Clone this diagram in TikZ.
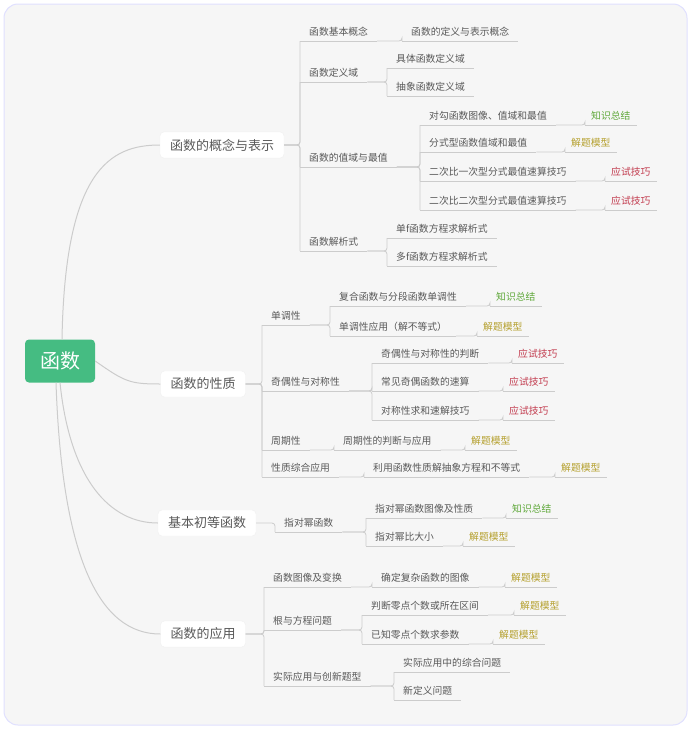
\documentclass[tikz,border=0pt]{standalone}
\usepackage{fontspec}
\setmainfont{Noto Sans CJK SC}
\definecolor{kncol}{HTML}{5FA83A}
\definecolor{jtcol}{HTML}{B5A02E}
\definecolor{yscol}{HTML}{C23B4E}
\definecolor{rootcol}{HTML}{45BC82}
\begin{document}
\begin{tikzpicture}[x=1pt,y=-1pt,
  txt/.style={text=black!65,font=\fontsize{9.8}{10}\selectfont},
  leaf/.style={txt,anchor=south west,inner xsep=9,inner ysep=3,minimum height=18},
  l2/.style={leaf},
  tg/.style={leaf,inner xsep=6},
  kn/.style={tg,text=kncol},
  jt/.style={tg,text=jtcol},
  ys/.style={tg,text=yscol},
  l1/.style={txt,font=\fontsize{13}{14}\selectfont,fill=white,rounded corners=4,inner xsep=10,inner ysep=7,draw=black!6},
  ln/.style={draw=black!20,line width=0.8pt,rounded corners=3},
  cv/.style={draw=black!20,line width=1pt}]
\useasboundingbox (0,0) rectangle (691,729);
\fill[white] (0,0) rectangle (691,729);
\fill[rounded corners=14,fill=black!3.5,draw=blue!12,line width=1pt] (4,4) rectangle (687,725);
% root
\node[fill=rootcol,rounded corners=4,text=white,font=\fontsize{20}{22}\selectfont,minimum width=70,minimum height=43] (root) at (60,361) {函数};
% level1
\node[l1] (a) at (222,145) {函数的概念与表示};
\node[l1] (b) at (203,384) {函数的性质};
\node[l1] (c) at (207,523) {基本初等函数};
\node[l1] (d) at (203,634) {函数的应用};
\draw[cv] (root.north) ++(2,0) .. controls (65,170) and (110,145) .. (a.west);
\draw[cv] (root.east) .. controls (125,382) and (130,384) .. (b.west);
\draw[cv] (root.south) .. controls (70,480) and (110,523) .. (c.west);
\draw[cv] (root.south) ++(-4,0) .. controls (62,560) and (100,634) .. (d.west);
% ---- concept
\node[l2] (a1) at (300,41) {函数基本概念};
\node[leaf] (a11) at (402,41) {函数的定义与表示概念};
\node[l2] (a2) at (300,82) {函数定义域};
\node[leaf] (a21) at (387,68) {具体函数定义域};
\node[leaf] (a22) at (387,96) {抽象函数定义域};
\node[l2] (a3) at (300,167) {函数的值域与最值};
\node[leaf] (a31) at (420,125) {对勾函数图像、值域和最值};
\node[kn] (a31t) at (585,125) {知识总结};
\node[leaf] (a32) at (420,152) {分式型函数值域和最值};
\node[jt] (a32t) at (565,152) {解题模型};
\node[leaf] (a33) at (420,181) {二次比一次型分式最值速算技巧};
\node[ys] (a33t) at (605,181) {应试技巧};
\node[leaf] (a34) at (420,210) {二次比二次型分式最值速算技巧};
\node[ys] (a34t) at (605,210) {应试技巧};
\node[l2] (a4) at (300,251) {函数解析式};
\node[leaf] (a41) at (387,238) {单f函数方程求解析式};
\node[leaf] (a42) at (387,266) {多f函数方程求解析式};
% ---- properties
\node[l2] (b1) at (262,325) {单调性};
\node[leaf] (b11) at (330,306) {复合函数与分段函数单调性};
\node[kn] (b11t) at (490,306) {知识总结};
\node[leaf] (b12) at (330,336) {单调性应用（解不等式）};
\node[jt] (b12t) at (477,336) {解题模型};
\node[l2] (b2) at (262,391) {奇偶性与对称性};
\node[leaf] (b21) at (372,363) {奇偶性与对称性的判断};
\node[ys] (b21t) at (512,363) {应试技巧};
\node[leaf] (b22) at (372,391) {常见奇偶函数的速算};
\node[ys] (b22t) at (503,391) {应试技巧};
\node[leaf] (b23) at (372,420) {对称性求和速解技巧};
\node[ys] (b23t) at (503,420) {应试技巧};
\node[l2] (b3) at (262,450) {周期性};
\node[leaf] (b31) at (334,450) {周期性的判断与应用};
\node[jt] (b31t) at (465,450) {解题模型};
\node[l2] (b4) at (262,477) {性质综合应用};
\node[leaf] (b41) at (364,477) {利用函数性质解抽象方程和不等式};
\node[jt] (b41t) at (555,477) {解题模型};
% ---- elementary
\node[l2] (c1) at (275,532) {指对幂函数};
\node[leaf] (c11) at (366,518) {指对幂函数图像及性质};
\node[kn] (c11t) at (506,518) {知识总结};
\node[leaf] (c12) at (366,546) {指对幂比大小};
\node[jt] (c12t) at (463,546) {解题模型};
% ---- application
\node[l2] (d1) at (264,587) {函数图像及变换};
\node[leaf] (d11) at (372,587) {确定复杂函数的图像};
\node[jt] (d11t) at (505,587) {解题模型};
\node[l2] (d2) at (264,630) {根与方程问题};
\node[leaf] (d21) at (362,615) {判断零点个数或所在区间};
\node[jt] (d21t) at (514,615) {解题模型};
\node[leaf] (d22) at (362,644) {已知零点个数求参数};
\node[jt] (d22t) at (493,644) {解题模型};
\node[l2] (d3) at (264,686) {实际应用与创新题型};
\node[leaf] (d31) at (394,672) {实际应用中的综合问题};
\node[leaf] (d32) at (394,700) {新定义问题};
% underlines
\foreach \n in {a1,a11,a2,a21,a22,a3,a31,a31t,a32,a32t,a33,a33t,a34,a34t,a4,a41,a42,
  b1,b11,b11t,b12,b12t,b2,b21,b21t,b22,b22t,b23,b23t,b3,b31,b31t,b4,b41,b41t,
  c1,c11,c11t,c12,c12t,d1,d11,d11t,d2,d21,d21t,d22,d22t,d3,d31,d32}
  \draw[ln] (\n.south west) -- (\n.south east);
% connectors
\foreach \p/\c in {a/a1,a/a2,a/a3,a/a4,b/b1,b/b2,b/b3,b/b4,c/c1,d/d1,d/d2,d/d3}
  \draw[ln] (\p.east) -| (\c.south west);
\foreach \p/\c in {a1/a11,a2/a21,a2/a22,a3/a31,a3/a32,a3/a33,a3/a34,a4/a41,a4/a42,
  a31/a31t,a32/a32t,a33/a33t,a34/a34t,
  b1/b11,b1/b12,b2/b21,b2/b22,b2/b23,b3/b31,b4/b41,
  b11/b11t,b12/b12t,b21/b21t,b22/b22t,b23/b23t,b31/b31t,b41/b41t,
  c1/c11,c1/c12,c11/c11t,c12/c12t,
  d1/d11,d2/d21,d2/d22,d3/d31,d3/d32,d11/d11t,d21/d21t,d22/d22t}
  \draw[ln] (\p.south east) -| (\c.south west);
\end{tikzpicture}
\end{document}
